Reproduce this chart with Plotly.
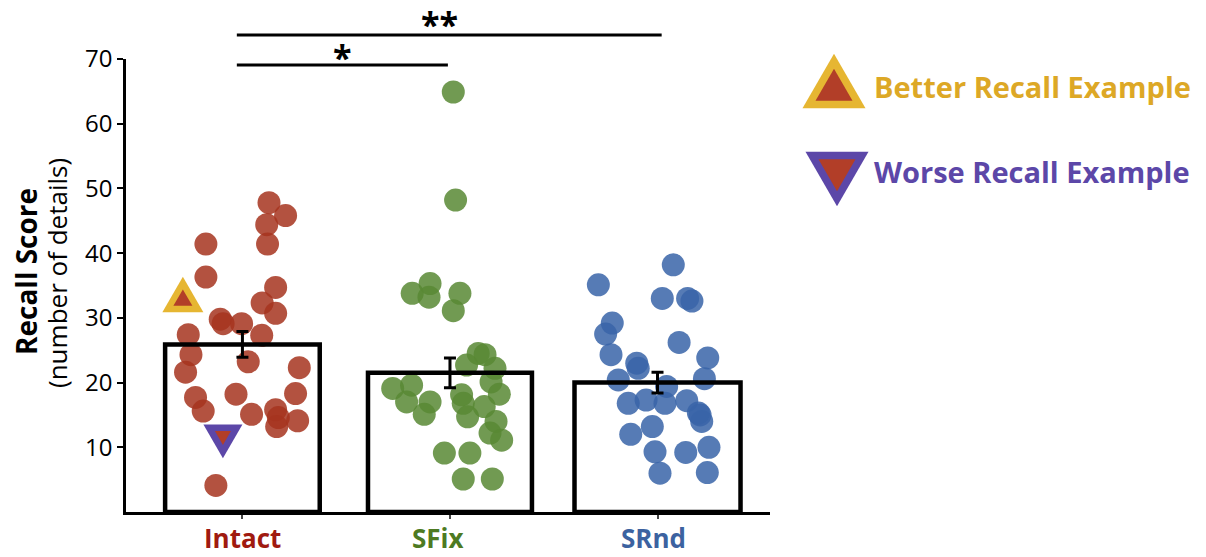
import plotly.graph_objects as go

# ---- data -------------------------------------------------------------
categories = ["Intact", "SFix", "SRnd"]
means = [25.9, 21.5, 20.0]
sem = [2.0, 2.3, 1.6]

intact_scores = [47.8, 45.8, 44.4, 41.4, 41.4, 36.3, 34.7, 32.3, 30.7, 29.8,
                 29.1, 29.1, 27.3, 27.4, 24.3, 23.2, 21.6, 22.3, 17.7, 18.3,
                 18.2, 15.6, 15.1, 15.8, 14.6, 13.2, 14.1, 4.1]
intact_jitter = [0.128, 0.208, 0.117, 0.121, -0.176, -0.176, 0.160, 0.095, 0.160, -0.107,
                 -0.093, -0.004, 0.093, -0.261, -0.248, 0.028, -0.274, 0.274, -0.226, 0.256,
                 -0.031, -0.189, 0.044, 0.160, 0.173, 0.165, 0.266, -0.128]

sfix_scores = [64.9, 48.2, 33.8, 35.3, 33.2, 33.8, 31.1, 24.5, 24.3, 22.7,
               22.2, 20.1, 19.1, 19.6, 17.0, 17.0, 15.1, 18.1, 16.8, 14.7,
               16.3, 18.2, 14.0, 12.2, 11.1, 9.1, 9.1, 5.1, 5.1]
sfix_jitter = [0.016, 0.027, -0.182, -0.096, -0.101, 0.048, 0.016, 0.136, 0.169, 0.080,
               0.217, 0.198, -0.276, -0.185, -0.209, -0.096, -0.124, 0.056, 0.064, 0.085,
               0.165, 0.238, 0.222, 0.193, 0.249, -0.027, 0.096, 0.064, 0.204]

srnd_scores = [38.2, 35.1, 33.0, 33.0, 32.6, 29.2, 27.5, 26.2, 24.3, 23.8,
               23.0, 22.2, 20.4, 20.6, 19.4, 16.8, 17.3, 16.8, 17.2, 15.0,
               14.0, 15.3, 13.2, 12.0, 9.3, 9.2, 10.0, 6.0, 6.1]
srnd_jitter = [0.076, -0.285, 0.023, 0.145, 0.166, -0.218, -0.250, 0.104, -0.224, 0.242,
               -0.100, -0.093, -0.189, 0.226, 0.044, -0.141, -0.055, 0.036, 0.141, 0.205,
               0.213, 0.197, -0.025, -0.129, -0.012, 0.136, 0.248, 0.012, 0.240]

# highlighted participants in the Intact group: (jitter, score)
better_example = (-0.287, 32.7)
worse_example = (-0.094, 11.8)

y_ticks = [10, 20, 30, 40, 50, 60, 70]
legend_labels = ["Better Recall Example", "Worse Recall Example"]

# ---- styling ----------------------------------------------------------
point_colors = ["rgba(166,52,30,0.85)", "rgba(88,136,52,0.85)", "rgba(56,100,168,0.85)"]
label_colors = ["#A01A10", "#4D7A22", "#3C62A0"]
gold = "#E6B632"
gold_text = "#DDA826"
purple = "#5C47A8"
tri_red = "#B23E28"
FONT = "Open Sans"

W, H = 1206, 557
x_dom = [126 / W, 770 / W]
y_dom = [45 / H, 498 / H]
x_range = [-0.561, 2.542]
y_range = [0, 70]

fig = go.Figure()

groups = [(intact_scores, intact_jitter), (sfix_scores, sfix_jitter), (srnd_scores, srnd_jitter)]
for i, (scores, jitter) in enumerate(groups):
    fig.add_trace(go.Scatter(
        x=[i + j for j in jitter], y=scores, mode="markers",
        marker=dict(size=23, color=point_colors[i], line=dict(width=0)),
        showlegend=False, hoverinfo="y"))

# outlined mean bars on an overlaid axis pair so they sit above the points
fig.add_trace(go.Bar(
    x=[0, 1, 2], y=means, width=[0.745, 0.79, 0.8],
    marker=dict(color="rgba(0,0,0,0)", line=dict(color="black", width=4.5)),
    error_y=dict(type="data", array=sem, color="black", thickness=3, width=6),
    xaxis="x2", yaxis="y2", showlegend=False, hoverinfo="y"))


def triangle_path(side, up=True):
    h = side * 3 ** 0.5 / 2
    s = 1 if up else -1
    return (f"M0,{s * 2 * h / 3:.2f} L{-side / 2:.2f},{-s * h / 3:.2f} "
            f"L{side / 2:.2f},{-s * h / 3:.2f} Z")


def add_triangle(xanchor, yanchor, xref, yref, outer, inner, edge, up):
    for side, col in ((outer, edge), (inner, tri_red)):
        fig.add_shape(type="path", xref=xref, yref=yref,
                      xsizemode="pixel", ysizemode="pixel",
                      xanchor=xanchor, yanchor=yanchor,
                      path=triangle_path(side, up),
                      fillcolor=col, line=dict(width=0), layer="above")


# example markers inside the Intact column
add_triangle(better_example[0], better_example[1], "x", "y", 41, 19, gold, True)
add_triangle(worse_example[0], worse_example[1], "x", "y", 39, 16, purple, False)

# legend glyphs
add_triangle(834 / W, 1 - 90 / H, "paper", "paper", 63, 37, gold, True)
add_triangle(837 / W, 1 - 170 / H, "paper", "paper", 63, 37, purple, False)


def note(x, y, text, size, color="black", xref="paper", xanchor="center", angle=0):
    return dict(x=x, y=y, xref=xref, yref="paper", text=text, showarrow=False,
                xanchor=xanchor, yanchor="middle", textangle=angle,
                font=dict(family=FONT, size=size, color=color))


annotations = [
    note(872 / W, 1 - 87 / H, f"<b>{legend_labels[0]}</b>", 29, gold_text, xanchor="left"),
    note(872 / W, 1 - 171 / H, f"<b>{legend_labels[1]}</b>", 29, purple, xanchor="left"),
    note(26 / W, 1 - 272 / H, "<b>Recall Score</b>", 28, angle=-90),
    note(57 / W, 1 - 273 / H, "(number of details)", 26, angle=-90),
    # significance markers
    note(0.48, 1 - 57 / H, "<b>*</b>", 34, xref="x"),
    note(0.95, 1 - 24 / H, "<b>**</b>", 34, xref="x"),
]
label_x = [0, 0.94, 1.98]
for i, name in enumerate(categories):
    annotations.append(note(label_x[i], 1 - 538 / H, f"<b>{name}</b>", 26,
                            label_colors[i], xref="x"))

for y_px, x_end in ((65, 0.99), (35, 2.02)):
    fig.add_shape(type="line", xref="x", yref="paper", x0=-0.027, x1=x_end,
                  y0=1 - y_px / H, y1=1 - y_px / H, line=dict(color="black", width=3))

fig.update_layout(
    width=W, height=H, margin=dict(l=0, r=0, t=0, b=0),
    paper_bgcolor="white", plot_bgcolor="white",
    font=dict(family=FONT, color="black"),
    annotations=annotations, showlegend=False,
    xaxis=dict(domain=x_dom, range=x_range, showline=True, linecolor="black", linewidth=2.5,
               tickvals=[0, 1, 2], ticks="outside", ticklen=4, tickwidth=1.5, tickcolor="#444",
               showticklabels=False, showgrid=False, zeroline=False, fixedrange=True),
    yaxis=dict(domain=y_dom, range=y_range, showline=True, linecolor="black", linewidth=2.5,
               tickvals=y_ticks, ticks="outside", ticklen=6, tickwidth=2, tickcolor="black",
               tickfont=dict(family=FONT, size=24, color="black"),
               showgrid=False, zeroline=False, fixedrange=True, automargin=False),
    xaxis2=dict(domain=x_dom, range=x_range, overlaying="x", visible=False, fixedrange=True),
    yaxis2=dict(domain=y_dom, range=y_range, overlaying="y", visible=False, fixedrange=True),
)

fig.write_html("out.html")
